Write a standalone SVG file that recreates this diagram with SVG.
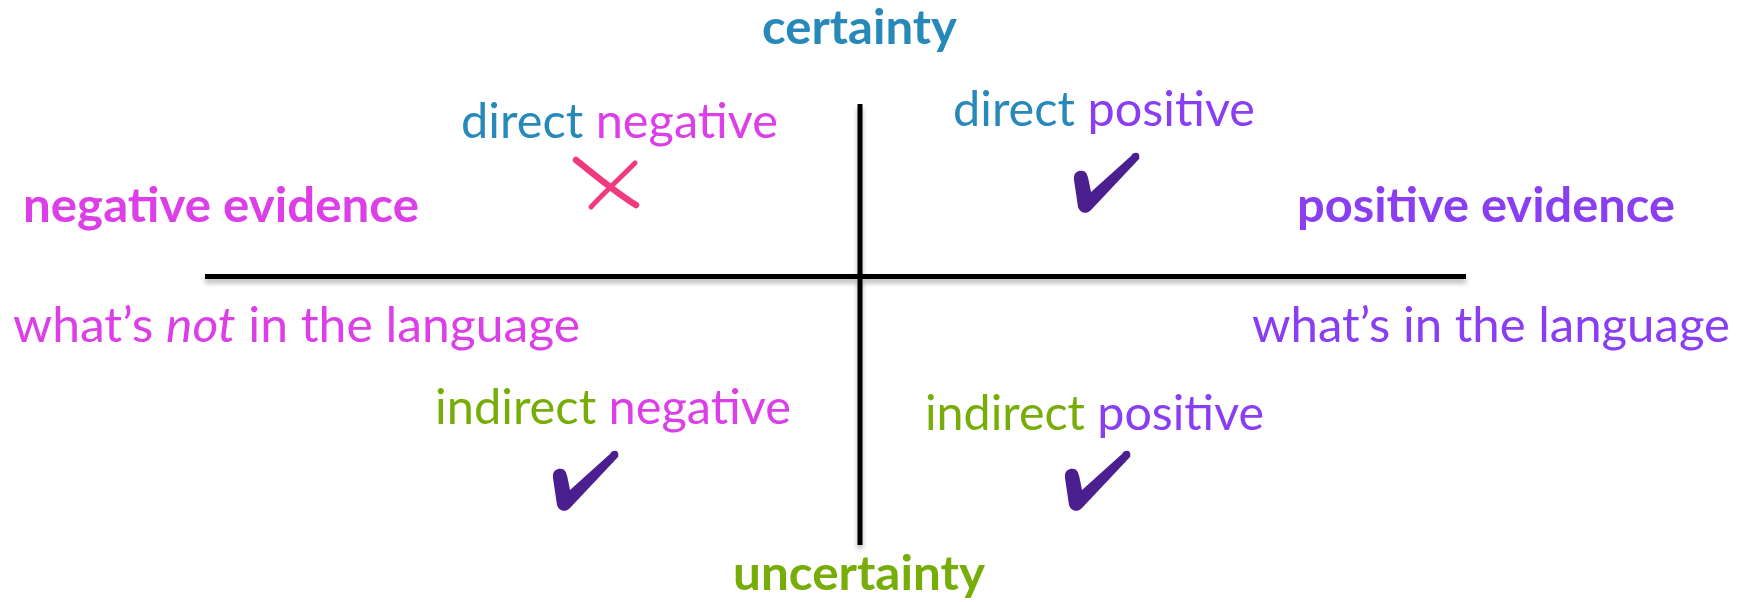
<svg xmlns="http://www.w3.org/2000/svg" width="1755" height="602" viewBox="0 0 1755 602">
  <style>
    text { font-family: Lato, "Noto Sans", "Liberation Sans", sans-serif; font-size: 48px; }
    .b { font-weight: bold; }
    .blue { fill: #2789b9; }
    .mag { fill: #dc3ee7; }
    .pur { fill: #8a3ef2; }
    .grn { fill: #77ad08; }
    .axis { fill: #000; }
    .chk { fill: #4c1f90; }
    .x { stroke: #ef3a7f; fill: none; stroke-linecap: round; }
  </style>
  <defs>
    <filter id="sh" filterUnits="userSpaceOnUse" x="0" y="0" width="1755" height="602">
      <feDropShadow dx="0" dy="4" stdDeviation="2.5" flood-color="#000" flood-opacity="0.3"/>
    </filter>
    <path id="check" d="M 62,1 C 66,0 67,4 66,7 L 18,58 C 13,63 7,61 5,55 L 1,28 C 0,20 6,18 10,19 C 15,20 15,26 18,40 L 58,4 C 59,2 60,1 62,1 Z"/>
  </defs>

  <g id="connectors" filter="url(#sh)">
    <rect class="axis" x="205" y="274" width="1261" height="5"/>
    <rect class="axis" x="857.5" y="104" width="5" height="441"/>
  </g>

  <g id="certainty">
    <text class="b blue" x="762" y="44" textLength="195" lengthAdjust="spacingAndGlyphs">certainty</text>
  </g>
  <g id="uncertainty">
    <text class="b grn" x="733" y="590" textLength="252" lengthAdjust="spacingAndGlyphs">uncertainty</text>
  </g>
  <g id="negative-evidence">
    <text class="b mag" x="23" y="222" textLength="396" lengthAdjust="spacingAndGlyphs">negative evidence</text>
  </g>
  <g id="positive-evidence">
    <text class="b pur" x="1297" y="222" textLength="378" lengthAdjust="spacingAndGlyphs">positive evidence</text>
  </g>
  <g id="whats-not">
    <text class="mag" x="13" y="342" textLength="567" lengthAdjust="spacingAndGlyphs">what’s <tspan font-style="italic">not</tspan> in the language</text>
  </g>
  <g id="whats-in">
    <text class="pur" x="1252" y="342" textLength="478" lengthAdjust="spacingAndGlyphs">what’s in the language</text>
  </g>
  <g id="direct-negative">
    <text x="461" y="138" textLength="317" lengthAdjust="spacingAndGlyphs"><tspan class="blue">direct</tspan> <tspan class="mag">negative</tspan></text>
    <path class="x" stroke-width="6.5" d="M 576,160 C 595,175 615,192 636,205"/>
    <path class="x" stroke-width="5" d="M 635,163 C 620,178 603,194 591,207"/>
  </g>
  <g id="direct-positive">
    <text x="953" y="126" textLength="302" lengthAdjust="spacingAndGlyphs"><tspan class="blue">direct</tspan> <tspan class="pur">positive</tspan></text>
    <use href="#check" class="chk" x="1073" y="152"/>
  </g>
  <g id="indirect-negative">
    <text x="435" y="424" textLength="356" lengthAdjust="spacingAndGlyphs"><tspan class="grn">indirect</tspan> <tspan class="mag">negative</tspan></text>
    <use href="#check" class="chk" x="552" y="450"/>
  </g>
  <g id="indirect-positive">
    <text x="925" y="430" textLength="339" lengthAdjust="spacingAndGlyphs"><tspan class="grn">indirect</tspan> <tspan class="pur">positive</tspan></text>
    <use href="#check" class="chk" x="1064" y="450"/>
  </g>
</svg>
